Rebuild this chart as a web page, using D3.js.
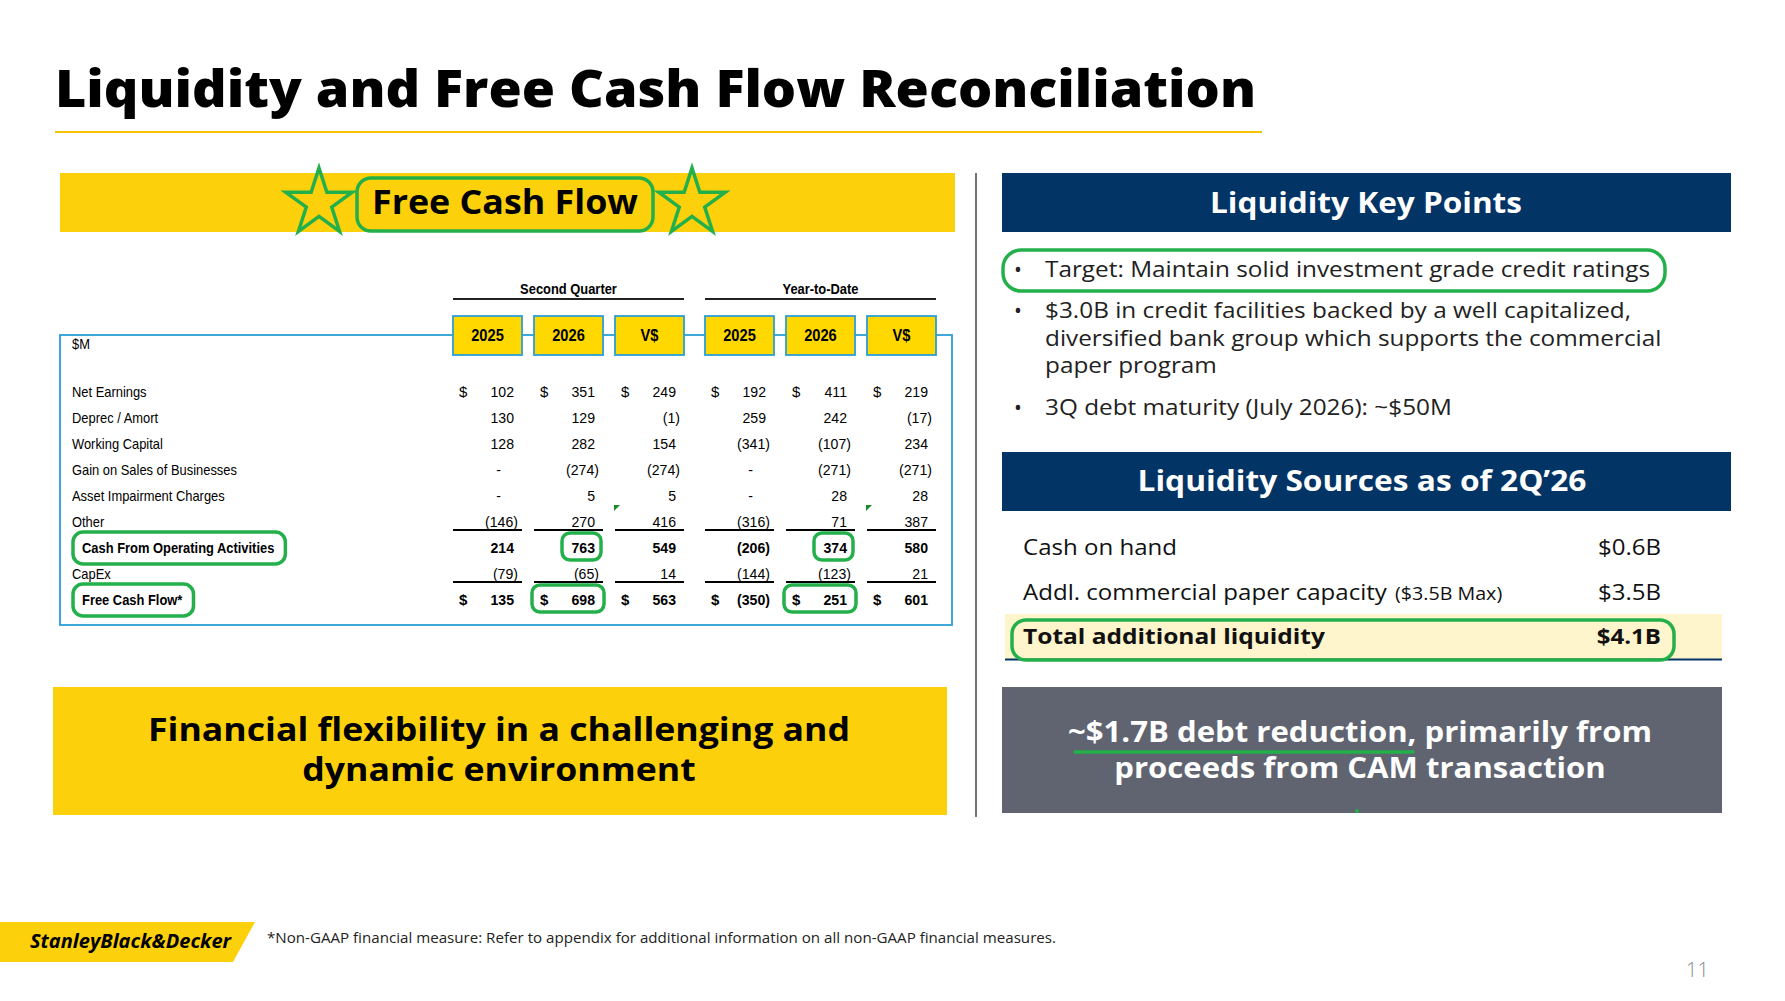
<!DOCTYPE html>
<html>
<head>
<meta charset="utf-8">
<script src="https://cdn.jsdelivr.net/npm/d3@7"></script>
<style>
  body { margin: 0; background: #fff; }
  svg { display: block; }
</style>
</head>
<body>
<svg id="slide" width="1785" height="1001"></svg>
<script>
// ---- data ----
const rowLabels = ['Net Earnings', 'Deprec / Amort', 'Working Capital', 'Gain on Sales of Businesses',
  'Asset Impairment Charges', 'Other', 'Cash From Operating Activities', 'CapEx', 'Free Cash Flow*'];
const colGroups = ['Second Quarter', 'Year-to-Date'];
const colHeads = ['2025', '2026', 'V$'];
// 0 is shown as "-" (accounting format)
const q2025 = [102, 130, 128, 0, 0, -146, 214, -79, 135];
const q2026 = [351, 129, 282, -274, 5, 270, 763, -65, 698];
const qVar  = [249, -1, 154, -274, 5, 416, 549, 14, 563];
const y2025 = [192, 259, -341, 0, 0, -316, -206, -144, -350];
const y2026 = [411, 242, -107, -271, 28, 71, 374, -123, 251];
const yVar  = [219, -17, 234, -271, 28, 387, 580, 21, 601];

const keyPoints = [
  ['Target: Maintain solid investment grade credit ratings'],
  ['$3.0B in credit facilities backed by a well capitalized,',
   'diversified bank group which supports the commercial',
   'paper program'],
  ['3Q debt maturity (July 2026): ~$50M']
];
const sourceLabels = ['Cash on hand', 'Addl. commercial paper capacity', 'Total additional liquidity'];
const sourceNotes  = ['', '($3.5B Max)', ''];
const sourceValues = ['$0.6B', '$3.5B', '$4.1B'];

// ---- look ----
const SANS = "'Open Sans', 'Noto Sans', sans-serif";
const NARROW = "'Liberation Sans Narrow', 'Arial Narrow', 'Liberation Sans', sans-serif";
const YELLOW = '#fcd10b', BOX_YELLOW = '#ffd800', NAVY = '#033466', GREY = '#5f6470',
      GREEN = '#23b04b', LBLUE = '#2a9fd6';
const TK = 0.86;   // table text is set narrow on the slide

const svg = d3.select('#slide');
svg.append('rect').attr('width', 1785).attr('height', 1001).attr('fill', '#fff');

// squeeze a text to a target width (the slide fonts render narrow)
function fit(sel, w) {
  const n = sel.node().getComputedTextLength();
  if (n > 0) sel.attr('textLength', w).attr('lengthAdjust', 'spacingAndGlyphs');
  return sel;
}
function scaleText(sel, k) {
  const n = sel.node().getComputedTextLength();
  sel.attr('textLength', n * k).attr('lengthAdjust', 'spacingAndGlyphs');
  return sel;
}

// ---- title ----
fit(svg.append('text').attr('x', 55).attr('y', 107)
  .style('font', `800 52px ${SANS}`).attr('fill', '#000')
  .text('Liquidity and Free Cash Flow Reconciliation'), 1201);
svg.append('line').attr('x1', 55).attr('x2', 1262).attr('y1', 132).attr('y2', 132)
  .attr('stroke', '#f5c400').attr('stroke-width', 2);

// divider
svg.append('line').attr('x1', 976).attr('x2', 976).attr('y1', 173).attr('y2', 817)
  .attr('stroke', '#444').attr('stroke-width', 1.5);

// ---- Free Cash Flow banner ----
svg.append('rect').attr('x', 60).attr('y', 173).attr('width', 895).attr('height', 59).attr('fill', YELLOW);
const star = d3.symbol().type(d3.symbolStar).size(35 * 35 / 0.8908130915292852);
[319, 692].forEach(cx => {
  svg.append('path').attr('d', star()).attr('transform', `translate(${cx},203)`)
    .attr('fill', 'none').attr('stroke', GREEN).attr('stroke-width', 3.5).attr('stroke-linejoin', 'miter');
});
svg.append('rect').attr('x', 357).attr('y', 178).attr('width', 296).attr('height', 53).attr('rx', 14)
  .attr('fill', 'none').attr('stroke', GREEN).attr('stroke-width', 3.5);
fit(svg.append('text').attr('x', 505).attr('y', 214).attr('text-anchor', 'middle')
  .style('font', `700 34px ${SANS}`).text('Free Cash Flow'), 266);

// ---- table ----
const cols = [q2025, q2026, qVar, y2025, y2026, yVar];
const gx = d3.scaleBand().domain(colGroups).range([453, 936]).paddingInner(0.0833);
const ix = d3.scaleBand().domain(colHeads).range([0, gx.bandwidth()]).paddingInner(0.148);
const colX = c => gx(colGroups[Math.floor(c / 3)]) + ix(colHeads[c % 3]);
const bw = ix.bandwidth();
const y = d3.scalePoint().domain(rowLabels).range([397, 605]);
const boldRows = new Set(['Cash From Operating Activities', 'Free Cash Flow*']);
const dollarRows = new Set(['Net Earnings', 'Free Cash Flow*']);
const ruleAfter = ['Other', 'CapEx'];

const tbl = svg.append('g');
// light blue frame
tbl.append('rect').attr('x', 60).attr('y', 335).attr('width', 892).attr('height', 290)
  .attr('fill', 'none').attr('stroke', LBLUE).attr('stroke-width', 1.8);

// group headings
colGroups.forEach(g => {
  scaleText(tbl.append('text').attr('x', gx(g) + gx.bandwidth() / 2).attr('y', 294).attr('text-anchor', 'middle')
    .style('font', `700 15px ${NARROW}`).text(g), TK);
  tbl.append('line').attr('x1', gx(g)).attr('x2', gx(g) + gx.bandwidth()).attr('y1', 299).attr('y2', 299)
    .attr('stroke', '#222').attr('stroke-width', 2.2);
});
// column boxes
d3.range(6).forEach(c => {
  tbl.append('rect').attr('x', colX(c)).attr('y', 316).attr('width', bw).attr('height', 39)
    .attr('fill', BOX_YELLOW).attr('stroke', LBLUE).attr('stroke-width', 1.8);
  scaleText(tbl.append('text').attr('x', colX(c) + bw / 2).attr('y', 341).attr('text-anchor', 'middle')
    .style('font', `700 17px ${NARROW}`).text(colHeads[c % 3]), TK);
});
scaleText(tbl.append('text').attr('x', 72).attr('y', 349).style('font', `400 15px ${NARROW}`).text('$M'), TK);

// row labels
const labelSel = {};
rowLabels.forEach(r => {
  const b = boldRows.has(r);
  labelSel[r] = scaleText(tbl.append('text').attr('x', b ? 82 : 72).attr('y', y(r))
    .style('font', `${b ? 700 : 400} 15px ${NARROW}`).text(r), TK);
});

const fmt = v => v === 0 ? '-' : v < 0 ? `(${Math.abs(v)})` : `${v}`;
cols.forEach((vals, c) => {
  const x0 = colX(c), x1 = x0 + bw;
  vals.forEach((v, r) => {
    const row = rowLabels[r];
    const weight = boldRows.has(row) ? 700 : 400;
    const xr = v === 0 ? x1 - 21 : v < 0 ? x1 - 4 : x1 - 8;
    scaleText(tbl.append('text').attr('x', xr).attr('y', y(row)).attr('text-anchor', 'end')
      .style('font', `${weight} 15px ${NARROW}`).text(fmt(v)), 0.94);
    if (dollarRows.has(row)) {
      tbl.append('text').attr('x', x0 + 6).attr('y', y(row))
        .style('font', `${weight} 15px ${NARROW}`).text('$');
    }
  });
  ruleAfter.forEach(row => {
    tbl.append('line').attr('x1', x0).attr('x2', x1).attr('y1', y(row) + 3).attr('y2', y(row) + 3)
      .attr('stroke', '#000').attr('stroke-width', 2);
  });
});

// tiny green cell markers
[2, 5].forEach(c => {
  const x0 = colX(c) - 1, yy = y('Asset Impairment Charges') + 4;
  tbl.append('path').attr('d', `M${x0},${yy}L${x0 + 6},${yy}L${x0},${yy + 6}Z`).attr('fill', '#1a8a2a');
});

// green annotation outlines
['Cash From Operating Activities', 'Free Cash Flow*'].forEach(r => {
  const bb = labelSel[r].node().getBBox();
  tbl.append('rect').attr('x', bb.x - 9).attr('y', y(r) - 21).attr('width', bb.width + 20).attr('height', 32)
    .attr('rx', 10).attr('fill', 'none').attr('stroke', GREEN).attr('stroke-width', 3.5);
});
[1, 4].forEach(c => {
  const x0 = colX(c), x1 = x0 + bw;
  const rc = 'Cash From Operating Activities', rf = 'Free Cash Flow*';
  tbl.append('rect').attr('x', x1 - 41).attr('y', y(rc) - 20).attr('width', 39).attr('height', 27)
    .attr('rx', 8).attr('fill', 'none').attr('stroke', GREEN).attr('stroke-width', 3.5);
  tbl.append('rect').attr('x', x0 - 2).attr('y', y(rf) - 20).attr('width', bw + 3).attr('height', 27)
    .attr('rx', 8).attr('fill', 'none').attr('stroke', GREEN).attr('stroke-width', 3.5);
});

// ---- bottom-left message ----
svg.append('rect').attr('x', 53).attr('y', 687).attr('width', 894).attr('height', 128).attr('fill', YELLOW);
const msg = ['Financial flexibility in a challenging and', 'dynamic environment'];
const m0 = svg.append('text').attr('x', 499).attr('y', 741).attr('text-anchor', 'middle')
  .style('font', `700 32px ${SANS}`).text(msg[0]);
const mk = 702 / m0.node().getComputedTextLength();
scaleText(m0, mk);
scaleText(svg.append('text').attr('x', 499).attr('y', 781).attr('text-anchor', 'middle')
  .style('font', `700 32px ${SANS}`).text(msg[1]), mk);

// ---- right column: key points ----
svg.append('rect').attr('x', 1002).attr('y', 173).attr('width', 729).attr('height', 59).attr('fill', NAVY);
fit(svg.append('text').attr('x', 1366).attr('y', 213).attr('text-anchor', 'middle').attr('fill', '#fff')
  .style('font', `700 29px ${SANS}`).text('Liquidity Key Points'), 312);

const kpBase = [277, 318, 415];
let kpK = null;
keyPoints.forEach((lines, i) => {
  svg.append('text').attr('x', 1014).attr('y', kpBase[i]).attr('fill', '#222')
    .style('font', `400 21px ${SANS}`).text('•');
  lines.forEach((ln, j) => {
    const t = svg.append('text').attr('x', 1045).attr('y', kpBase[i] + j * 27.5).attr('fill', '#222')
      .style('font', `400 22.5px ${SANS}`).text(ln);
    if (kpK === null) kpK = 605 / t.node().getComputedTextLength();
    scaleText(t, kpK);
  });
});
svg.append('rect').attr('x', 1003).attr('y', 250).attr('width', 662).attr('height', 41).attr('rx', 18)
  .attr('fill', 'none').attr('stroke', GREEN).attr('stroke-width', 3.5);

// ---- liquidity sources ----
svg.append('rect').attr('x', 1002).attr('y', 452).attr('width', 729).attr('height', 59).attr('fill', NAVY);
fit(svg.append('text').attr('x', 1362).attr('y', 491).attr('text-anchor', 'middle').attr('fill', '#fff')
  .style('font', `700 29px ${SANS}`).text('Liquidity Sources as of 2Q\u201926'), 449);

const sy = d3.scalePoint().domain(sourceLabels).range([555, 644]);
const last = sourceLabels[sourceLabels.length - 1];
svg.append('rect').attr('x', 1005).attr('y', sy(last) - 30).attr('width', 717).attr('height', 46).attr('fill', '#fff5cc');
svg.append('line').attr('x1', 1005).attr('x2', 1722).attr('y1', sy(last) + 15.5).attr('y2', sy(last) + 15.5)
  .attr('stroke', NAVY).attr('stroke-width', 2);
let srcK = null;
sourceLabels.forEach((lab, i) => {
  const b = lab === last;
  const t = svg.append('text').attr('x', 1023).attr('y', sy(lab)).attr('fill', '#111')
    .style('font', `${b ? 700 : 400} 22px ${SANS}`).text(lab);
  if (srcK === null) srcK = 154 / t.node().getComputedTextLength();
  scaleText(t, b ? srcK * 1.02 : srcK);
  if (sourceNotes[i]) {
    const bb = t.node().getBBox();
    scaleText(svg.append('text').attr('x', bb.x + bb.width + 7).attr('y', sy(lab)).attr('fill', '#111')
      .style('font', `400 18px ${SANS}`).text(sourceNotes[i]), srcK);
  }
  scaleText(svg.append('text').attr('x', 1661).attr('y', sy(lab)).attr('text-anchor', 'end').attr('fill', '#111')
    .style('font', `${b ? 700 : 400} 22px ${SANS}`).text(sourceValues[i]), srcK);
});
svg.append('rect').attr('x', 1012).attr('y', sy(last) - 24).attr('width', 662).attr('height', 40).attr('rx', 14)
  .attr('fill', 'none').attr('stroke', GREEN).attr('stroke-width', 3.5);

// ---- grey callout ----
svg.append('rect').attr('x', 1002).attr('y', 687).attr('width', 720).attr('height', 126).attr('fill', GREY);
const g0 = svg.append('text').attr('x', 1360).attr('y', 742).attr('text-anchor', 'middle').attr('fill', '#fff')
  .style('font', `700 29px ${SANS}`).text('~$1.7B debt reduction, primarily from');
const gk = 584 / g0.node().getComputedTextLength();
scaleText(g0, gk);
scaleText(svg.append('text').attr('x', 1360).attr('y', 778).attr('text-anchor', 'middle').attr('fill', '#fff')
  .style('font', `700 29px ${SANS}`).text('proceeds from CAM transaction'), gk);
svg.append('line').attr('x1', 1075).attr('x2', 1413).attr('y1', 752).attr('y2', 752)
  .attr('stroke', GREEN).attr('stroke-width', 3.5).attr('stroke-linecap', 'round');
svg.append('circle').attr('cx', 1357).attr('cy', 811).attr('r', 2).attr('fill', GREEN);

// ---- footer ----
svg.append('path').attr('d', 'M0,922L255,922L233,962L0,962Z').attr('fill', YELLOW);
fit(svg.append('text').attr('x', 30).attr('y', 948)
  .style('font', `italic 700 20px ${SANS}`).text('StanleyBlack&Decker'), 201);
fit(svg.append('text').attr('x', 267).attr('y', 943).attr('fill', '#222')
  .style('font', `400 14px ${SANS}`)
  .text('*Non-GAAP financial measure: Refer to appendix for additional information on all non-GAAP financial measures.'), 789);
svg.append('text').attr('x', 1686).attr('y', 977).attr('fill', '#8a8a8a')
  .style('font', `300 20px ${SANS}`).text('11');
</script>
</body>
</html>
